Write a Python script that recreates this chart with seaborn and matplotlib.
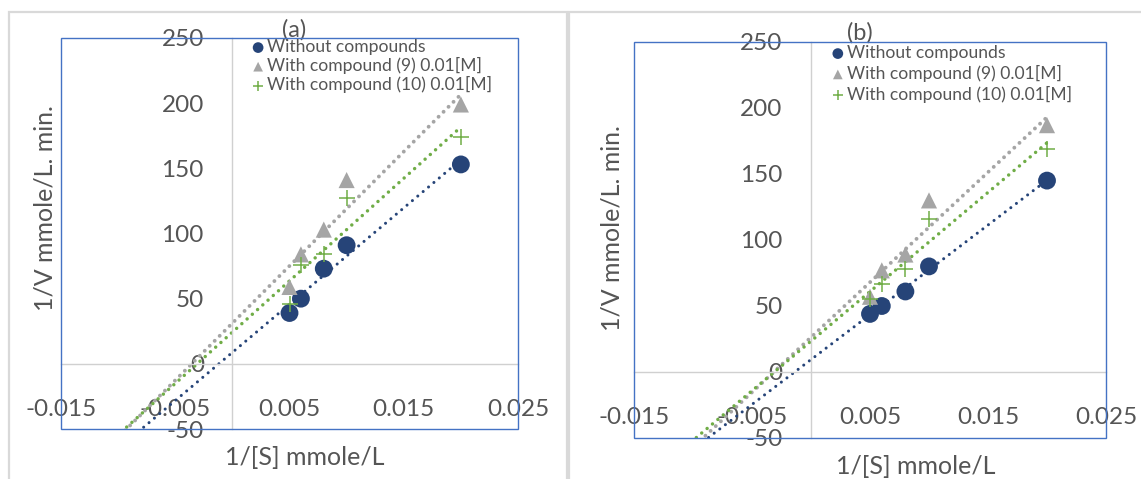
import numpy as np
import pandas as pd
import matplotlib
matplotlib.use("Agg")
import matplotlib.pyplot as plt
from matplotlib.patches import Rectangle
import seaborn as sns

# ---------------- data ----------------
inv_s = [0.005, 0.006, 0.008, 0.010, 0.020]          # 1/[S]
a_without = [39, 50, 73, 91, 153]
a_c9 = [59, 84, 103, 141, 199]
a_c10 = [46, 76, 84, 127, 174]
b_without = [44, 50, 61, 80, 145]
b_c9 = [57, 77, 89, 130, 187]
b_c10 = [55, 67, 78, 116, 169]
series_names = ["Without compounds", "With compound (9) 0.01[M]",
                "With compound (10) 0.01[M]"]
x_ticks = [-0.015, -0.005, 0.005, 0.015, 0.025]
x_tick_labels = ["-0.015", "-0.005", "0.005", "0.015", "0.025"]
y_ticks = [-50, 0, 50, 100, 150, 200, 250]
y_tick_labels = ["-50", "0", "50", "100", "150", "200", "250"]
panel_titles = ["(a)", "(b)"]
x_title = "1/[S] mmole/L"
y_title = "1/V mmole/L. min."
trend_from, trend_to = -0.012, 0.020   # trendline forecast extent

# ---------------- style ----------------
sns.set_style("white")
plt.rcParams["font.family"] = ["Lato", "DejaVu Sans"]
TXT = "#555555"
colors = ["#264478", "#A5A5A5", "#70AD47"]
markers = ["o", "^", "+"]
msize = [165, 135, 140]
lws = [2.2, 2.8, 2.5]
period_px = 7.0

W, H = 1141, 479
fig = plt.figure(figsize=(W / 100, H / 100), dpi=100)

# panel frames
fig.add_artist(Rectangle((9 / W, -0.1), (567 - 9) / W, (H - 12) / H + 0.1,
                         transform=fig.transFigure, fill=False,
                         ec="#d9d9d9", lw=1.6))
fig.add_artist(Rectangle((569 / W, -0.1), 0.6, (H - 12) / H + 0.1,
                         transform=fig.transFigure, fill=False,
                         ec="#d9d9d9", lw=1.6))

panels = [
    dict(box=(61, 38, 518, 429), data=[a_without, a_c9, a_c10],
         title_xy=(0.51, 1.02), xl=(0.534, -0.072), yl=(-0.035, 0.565),
         leg=(0.416, 0.997), ls=0.12),
    dict(box=(634, 42, 1106, 438), data=[b_without, b_c9, b_c10],
         title_xy=(0.479, 1.022), xl=(0.597, -0.071), yl=(-0.047, 0.530),
         leg=(0.417, 0.992), ls=0.22),
]

for p, title in zip(panels, panel_titles):
    x0, y0, x1, y1 = p["box"]
    ax = fig.add_axes([x0 / W, (H - y1) / H, (x1 - x0) / W, (y1 - y0) / H])
    ax.set_xlim(-0.015, 0.025)
    ax.set_ylim(-50, 250)

    for i, (vals, name) in enumerate(zip(p["data"], series_names)):
        k, b = np.polyfit(inv_s, vals, 1)
        tx = np.array([trend_from, trend_to])
        gap = period_px / (lws[i] * 100 / 72)
        ax.plot(tx, k * tx + b, color=colors[i], lw=lws[i],
                linestyle=(0, (0.01, gap)), dash_capstyle="round", zorder=2)
        df = pd.DataFrame({"x": inv_s, "y": vals})
        if markers[i] == "+":
            sns.scatterplot(data=df, x="x", y="y", marker="+", s=msize[i],
                            color=colors[i], linewidth=1.1, ax=ax,
                            label=name, zorder=3)
        else:
            sns.scatterplot(data=df, x="x", y="y", marker=markers[i],
                            s=msize[i], color=colors[i], edgecolor="none",
                            ax=ax, label=name, zorder=3)

    # axes crossing at zero
    for s in ["top", "right"]:
        ax.spines[s].set_visible(False)
    ax.spines["left"].set_position(("data", 0))
    ax.spines["bottom"].set_position(("data", 0))
    for s in ["left", "bottom"]:
        ax.spines[s].set_color("#d0d0d0")
        ax.spines[s].set_linewidth(1.0)
    ax.add_patch(Rectangle((0, 0), 1, 1, transform=ax.transAxes, fill=False,
                           ec="#4472C4", lw=1.0, zorder=5, clip_on=False))

    ax.set_xticks(x_ticks)
    ax.set_xticklabels(x_tick_labels)
    ax.set_yticks(y_ticks)
    ax.set_yticklabels(y_tick_labels)
    ax.tick_params(axis="y", length=0, pad=20.5, labelsize=17.5,
                   labelcolor=TXT)
    ax.tick_params(axis="x", length=0, pad=25, labelsize=17.5,
                   labelcolor=TXT)
    ax.grid(False)

    ax.set_xlabel(x_title, fontsize=18, color=TXT, va="center", ha="center")
    ax.set_ylabel(y_title, fontsize=18, color=TXT, va="center", ha="center")
    ax.xaxis.set_label_coords(*p["xl"])
    ax.yaxis.set_label_coords(*p["yl"])

    ax.text(p["title_xy"][0], p["title_xy"][1], title, transform=ax.transAxes,
            fontsize=17, color=TXT, ha="center", va="center")

    ax.legend(loc="upper left", bbox_to_anchor=p["leg"], frameon=False,
              fontsize=12.6, handlelength=0.8, handletextpad=0.12,
              labelspacing=p["ls"], borderpad=0, borderaxespad=0,
              markerscale=0.6, labelcolor=TXT)

fig.savefig("out.png", dpi=100)
